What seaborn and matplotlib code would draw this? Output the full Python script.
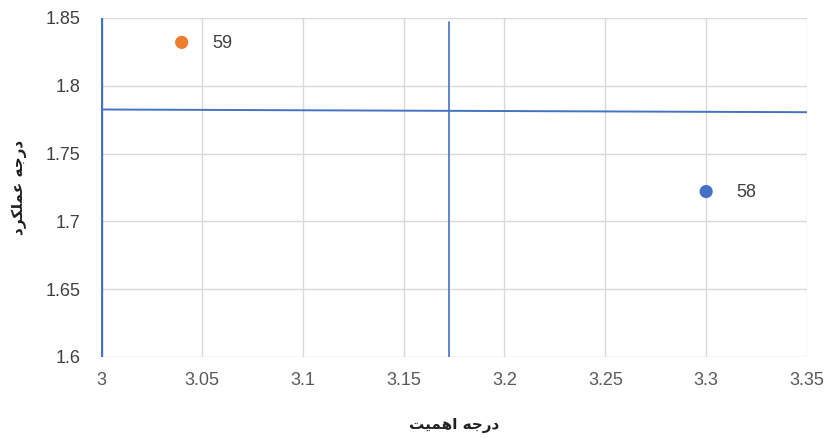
import matplotlib
matplotlib.use("Agg")
import matplotlib.pyplot as plt
import seaborn as sns
import pandas as pd

# point data
IMPORTANCE = [3.04, 3.30]
PERFORMANCE = [1.832, 1.722]
ITEM_LABELS = ["59", "58"]
POINT_COLORS = ["#ED7D31", "#4472C4"]

# blue reference lines (hand drawn in the original, slightly tilted)
VLINE_X = [3.1725, 3.1725]
VLINE_Y = [1.6, 1.847]
HLINE_X = [3.0, 3.35]
HLINE_Y = [1.7825, 1.7805]

X_TICKS = [3, 3.05, 3.1, 3.15, 3.2, 3.25, 3.3, 3.35]
Y_TICKS = [1.6, 1.65, 1.7, 1.75, 1.8, 1.85]

# Persian axis titles, given in presentation forms in visual order
# since matplotlib does no Arabic shaping
# "درجه اهمیت"
X_LABEL = "\uFE96\uFEF4\uFEE4\uFEEB\uFE8D \uFEEA\uFE9F\uFEAD\uFEA9"
# "درجه عملکرد"
Y_LABEL = "\uFEA9\uFEAE\uFB91\uFEE0\uFEE4\uFECB \uFEEA\uFE9F\uFEAD\uFEA9"

LINE_COLOR = "#4472C4"
GRID_COLOR = "#D9D9D9"

sns.set_style("white")
plt.rcParams["font.family"] = ["Liberation Sans", "DejaVu Sans"]

df = pd.DataFrame({"x": IMPORTANCE, "y": PERFORMANCE, "label": ITEM_LABELS})

fig = plt.figure(figsize=(8.26, 4.38), dpi=100)
ax = fig.add_axes([0.1223, 0.185, 0.8547, 0.774])

ax.set_xlim(3.0, 3.35)
ax.set_ylim(1.6, 1.85)
ax.set_xticks(X_TICKS)
ax.set_yticks(Y_TICKS)
ax.set_xticklabels([f"{t:g}" for t in X_TICKS])
ax.set_yticklabels([f"{t:g}" for t in Y_TICKS])
ax.grid(True, color=GRID_COLOR, linewidth=1.0)
ax.set_axisbelow(True)
for s in ax.spines.values():
    s.set_visible(False)
ax.tick_params(length=0, labelsize=13)
ax.tick_params(axis="x", pad=11, colors="#595959")
ax.tick_params(axis="y", pad=15, colors="#404040")

# reference lines
ax.plot([3.0, 3.0], [1.6, 1.85], color=LINE_COLOR, linewidth=2.4, zorder=2)
ax.plot(VLINE_X, VLINE_Y, color=LINE_COLOR, linewidth=1.2, zorder=2)
ax.plot(HLINE_X, HLINE_Y, color=LINE_COLOR, linewidth=1.4, zorder=2)

sns.scatterplot(data=df, x="x", y="y", hue="label", palette=POINT_COLORS,
                s=90, edgecolor="none", legend=False, ax=ax, zorder=3)

for xv, yv, lab in zip(IMPORTANCE, PERFORMANCE, ITEM_LABELS):
    ax.annotate(lab, (xv, yv), xytext=(22, -1), textcoords="offset points",
                va="center", ha="left", fontsize=13, color="#404040",
                bbox=dict(boxstyle="square,pad=0.3", fc="white", ec="none"),
                zorder=4)

ax.set_xlabel(X_LABEL, family="DejaVu Sans", fontsize=11, fontweight="bold",
              color="#202020")
ax.set_ylabel(Y_LABEL, family="DejaVu Sans", fontsize=11, fontweight="bold",
              color="#202020")
ax.xaxis.set_label_coords(0.5, -0.18)
ax.yaxis.set_label_coords(-0.105, 0.5)

fig.savefig("out.png", dpi=100)
